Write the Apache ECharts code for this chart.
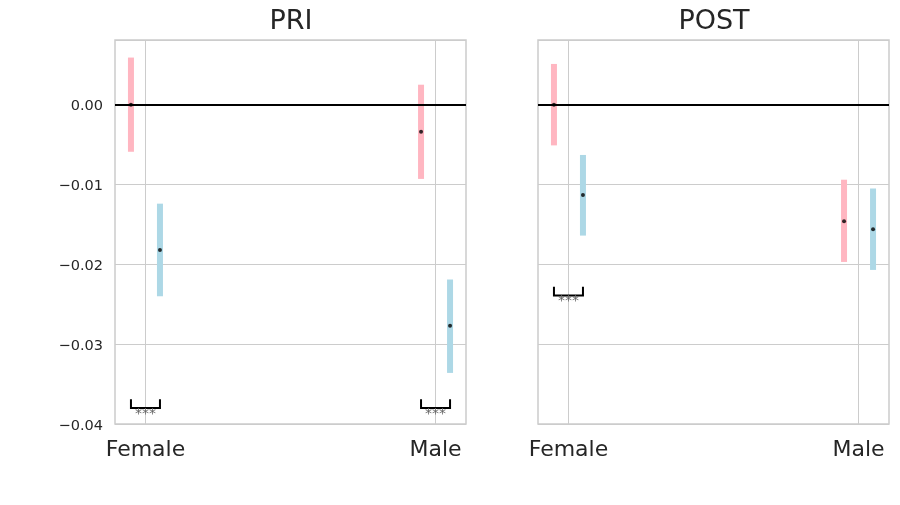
<!DOCTYPE html>
<html>
<head>
<meta charset="utf-8">
<script src="https://cdn.jsdelivr.net/npm/echarts@6/dist/echarts.min.js"></script>
<style>html,body{margin:0;padding:0;background:#fff;}#c{width:900px;height:505px;}</style>
</head>
<body>
<div id="c"></div>
<script>
// ---- data ----
const categories = ['Female', 'Male'];
const panels = ['PRI', 'POST'];
// PRI
const priPinkMean = [0.0000, -0.0034];
const priPinkLow  = [-0.0059, -0.0093];
const priPinkHigh = [0.0059, 0.0025];
const priBlueMean = [-0.0182, -0.0277];
const priBlueLow  = [-0.0240, -0.0336];
const priBlueHigh = [-0.0124, -0.0219];
// POST
const postPinkMean = [0.0000, -0.0146];
const postPinkLow  = [-0.0051, -0.0197];
const postPinkHigh = [0.0051, -0.0094];
const postBlueMean = [-0.0113, -0.0156];
const postBlueLow  = [-0.0164, -0.0207];
const postBlueHigh = [-0.0063, -0.0105];
// significance brackets: [category index, top, bottom, label]
const priSig  = [[0, -0.0369, -0.0380, '***'], [1, -0.0369, -0.0380, '***']];
const postSig = [[0, -0.0228, -0.0239, '***']];
const yTicks = [-0.04, -0.03, -0.02, -0.01, 0.00];

// ---- styling / layout ----
const PINK = '#FFB6C1', BLUE = '#ADD8E6', TXT = '#262626', GRIDC = '#cccccc';
const OFF = 0.05;
const FONT = 'DejaVu Sans';

const chart = echarts.init(document.getElementById('c'), null, {renderer: 'canvas'});

function fmtY(v) {
  let s;
  if (Math.abs(v) < 1e-9) s = '0.00';
  else s = (v < 0 ? '\u2212' : '') + Math.abs(v).toFixed(2);
  return '{v|' + s + '}';
}

function barItems(low, high, dx) {
  return categories.map((c, i) => [i + dx, low[i], high[i]]);
}
function ptItems(mean, dx) {
  return categories.map((c, i) => [i + dx, mean[i]]);
}

function renderBar(params, api) {
  const x = api.value(0);
  const p1 = api.coord([x, api.value(2)]);
  const p2 = api.coord([x, api.value(1)]);
  const w = 6;
  return {
    type: 'rect',
    shape: {x: p1[0] - w / 2, y: p1[1], width: w, height: p2[1] - p1[1]},
    style: {fill: api.visual('color')}
  };
}

const sigLabels = {sigPRI: priSig.map(s => s[3]), sigPOST: postSig.map(s => s[3])};
function renderSig(params, api) {
  const x = api.value(0), top = api.value(1), bot = api.value(2);
  const a = api.coord([x - OFF, top]);
  const b = api.coord([x - OFF, bot]);
  const c = api.coord([x + OFF, bot]);
  const d = api.coord([x + OFF, top]);
  const m = api.coord([x, bot]);
  const lab = sigLabels[params.seriesName][params.dataIndex];
  return {
    type: 'group',
    children: [
      {type: 'polyline', shape: {points: [a, b, c, d]}, style: {stroke: '#000', lineWidth: 2, fill: null}},
      {type: 'text', x: m[0], y: m[1] - 1, style: {text: lab, fill: '#666', font: '14px "' + FONT + '"', align: 'center', verticalAlign: 'top'}}
    ]
  };
}

const grids = [
  {left: 115, top: 40, width: 351, height: 384},
  {left: 538, top: 40, width: 351, height: 384}
].map(g => Object.assign(g, {show: true, borderColor: GRIDC, borderWidth: 1.5, backgroundColor: '#fff', containLabel: false}));

const xAxes = [0, 1].map(i => ({
  type: 'value', gridIndex: i, min: -0.105, max: 1.105,
  axisLine: {show: false}, axisTick: {show: false}, splitLine: {show: false},
  axisLabel: {
    customValues: [0, 1],
    formatter: v => categories[Math.round(v)],
    fontSize: 22, color: TXT, fontFamily: FONT, margin: 15
  }
}));

const yAxes = [0, 1].map(i => ({
  type: 'value', gridIndex: i, min: -0.04, max: 0.0081, interval: 0.01,
  axisLine: {show: false}, axisTick: {show: false},
  splitLine: {show: true, lineStyle: {color: GRIDC, width: 1}},
  axisLabel: {
    show: i === 0, formatter: fmtY, margin: 12, showMaxLabel: false,
    rich: {v: {fontSize: 14.5, color: TXT, fontFamily: FONT, padding: [4, 0, 0, 0]}}
  }
}));

const series = [];
const panelData = [
  {pl: priPinkLow, ph: priPinkHigh, pm: priPinkMean, bl: priBlueLow, bh: priBlueHigh, bm: priBlueMean, sig: priSig, name: 'PRI'},
  {pl: postPinkLow, ph: postPinkHigh, pm: postPinkMean, bl: postBlueLow, bh: postBlueHigh, bm: postBlueMean, sig: postSig, name: 'POST'}
];
panelData.forEach((p, i) => {
  series.push({
    type: 'line', xAxisIndex: i, yAxisIndex: i, data: [], silent: true, z: 1,
    markLine: {
      silent: true, symbol: 'none', label: {show: false}, animation: false,
      lineStyle: {color: GRIDC, width: 1, type: 'solid'},
      data: categories.map((c, k) => ({xAxis: k}))
    }
  });
  series.push({type: 'custom', name: 'pink' + p.name, xAxisIndex: i, yAxisIndex: i, z: 2,
    itemStyle: {color: PINK}, renderItem: renderBar, data: barItems(p.pl, p.ph, -OFF)});
  series.push({type: 'custom', name: 'blue' + p.name, xAxisIndex: i, yAxisIndex: i, z: 2,
    itemStyle: {color: BLUE}, renderItem: renderBar, data: barItems(p.bl, p.bh, OFF)});
  series.push({
    type: 'line', xAxisIndex: i, yAxisIndex: i, data: [], silent: true, z: 3,
    markLine: {
      silent: true, symbol: 'none', label: {show: false}, animation: false,
      lineStyle: {color: '#000', width: 2, type: 'solid'},
      data: [{yAxis: 0}]
    }
  });
  series.push({type: 'scatter', xAxisIndex: i, yAxisIndex: i, z: 4, symbol: 'circle', symbolSize: 4,
    itemStyle: {color: '#000'}, data: ptItems(p.pm, -OFF).concat(ptItems(p.bm, OFF))});
  series.push({type: 'custom', name: 'sig' + p.name, xAxisIndex: i, yAxisIndex: i, z: 5,
    renderItem: renderSig, data: p.sig.map(s => [s[0], s[1], s[2]])});
});

chart.setOption({
  animation: false,
  backgroundColor: '#fff',
  title: panels.map((t, i) => ({
    text: t, left: i === 0 ? 291 : 714, top: 8, textAlign: 'center', padding: 0,
    textStyle: {fontSize: 27, fontWeight: 'normal', color: TXT, fontFamily: FONT}
  })),
  grid: grids,
  xAxis: xAxes,
  yAxis: yAxes,
  series: series
});
</script>
</body>
</html>
